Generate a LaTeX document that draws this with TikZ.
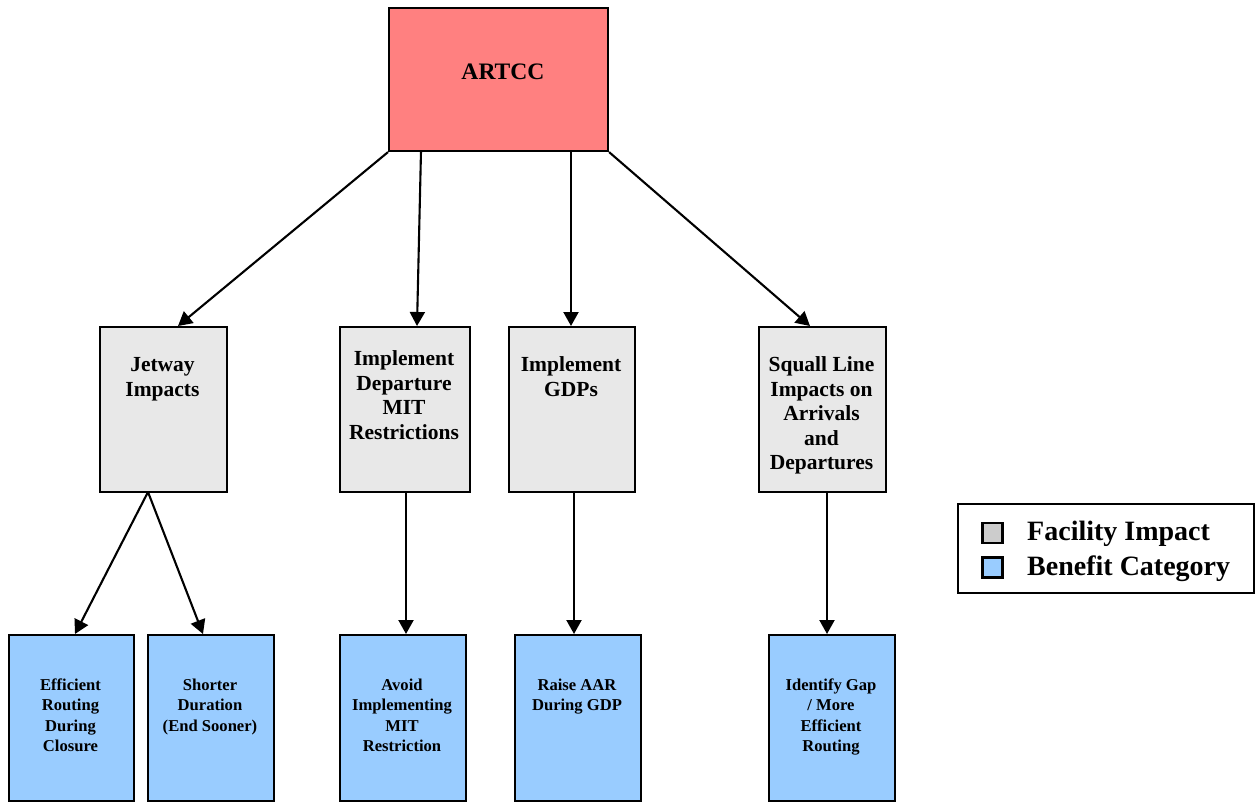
\documentclass[tikz,border=0pt]{standalone}
\usepackage{fontspec}
\setmainfont{Liberation Serif}
\usetikzlibrary{arrows.meta}
\definecolor{artcc}{RGB}{255,128,128}
\definecolor{facil}{RGB}{232,232,232}
\definecolor{benef}{RGB}{153,204,255}
\definecolor{legrey}{RGB}{204,204,204}
\tikzset{
  box/.style={draw=black, line width=2.1pt, inner sep=0pt, anchor=north west},
  artccbox/.style={box, fill=artcc},
  facbox/.style={box, fill=facil, minimum width=127pt, minimum height=165pt},
  benbox/.style={box, fill=benef, minimum width=126pt, minimum height=166pt},
  midtxt/.style={anchor=base, align=center, inner sep=0pt, font=\bfseries\fontsize{21.5}{24.5}\selectfont},
  bottxt/.style={anchor=base, align=center, inner sep=0pt, font=\bfseries\fontsize{16.6}{20.5}\selectfont},
  arr/.style={line width=2.1pt, -{Triangle[length=14pt,width=15pt]}},
  legsq/.style={draw=black, line width=2.1pt, minimum width=20pt, minimum height=20pt, inner sep=0pt},
  legtxt/.style={anchor=base west, inner sep=0pt, font=\bfseries\fontsize{28}{32}\selectfont}
}
\begin{document}
\begin{tikzpicture}[x=1pt,y=-1pt]
\useasboundingbox (0,0) rectangle (1256,801);
% top
\node[artccbox, minimum width=219pt, minimum height=143pt] (artcc) at (388,7) {};
\node[anchor=base, inner sep=0pt, font=\bfseries\fontsize{23.6}{28}\selectfont] (artcct) at (503,79) {ARTCC};
% middle row
\node[facbox] (jet) at (99,326) {};
\node[midtxt] (jett) at (162.5,396) {Jetway\\Impacts};
\node[facbox, minimum width=130pt] (dep) at (339,326) {};
\node[midtxt] (dept) at (404,439) {Implement\\Departure\\MIT\\Restrictions};
\node[facbox, minimum width=126pt] (gdp) at (508,326) {};
\node[midtxt] (gdpt) at (571,396) {Implement\\GDPs};
\node[facbox] (sq) at (758,326) {};
\node[midtxt] (sqt) at (821.5,469.5) {Squall Line\\Impacts on\\Arrivals\\and\\Departures};
% bottom row
\node[benbox, minimum width=125pt] (eff) at (8,634) {};
\node[bottxt] (efft) at (70.5,751.5) {Efficient\\Routing\\During\\Closure};
\node[benbox] (sho) at (147,634) {};
\node[bottxt] (shot) at (210,731) {Shorter\\Duration\\(End Sooner)};
\node[benbox] (avo) at (339,634) {};
\node[bottxt] (avot) at (402,751.5) {Avoid\\Implementing\\MIT\\Restriction};
\node[benbox] (rai) at (514,634) {};
\node[bottxt] (rait) at (577,710.5) {Raise AAR\\During GDP};
\node[benbox] (ide) at (768,634) {};
\node[bottxt] (idet) at (831,751.5) {Identify Gap\\/ More\\Efficient\\Routing};
% connectors
\coordinate (b0) at (178,326);
\coordinate (a1) at (421,151); \coordinate (b1) at (417,326);
\coordinate (a2) at (571,151); \coordinate (b2) at (571,326);
\coordinate (b3) at (810,326);
\draw[arr] (artcc.south west) -- (b0);
\draw[arr] (a1) -- (b1);
\draw[arr] (a2) -- (b2);
\draw[arr] (artcc.south east) -- (b3);
\coordinate (jb) at (148,492);
\coordinate (e0) at (75,634);
\coordinate (e1) at (203,634);
\draw[arr] (jb) -- (e0);
\draw[arr] (jb) -- (e1);
\coordinate (db) at (406,492); \coordinate (de) at (406,634);
\coordinate (gb) at (574,492); \coordinate (ge) at (574,634);
\coordinate (sb) at (827,492); \coordinate (se) at (827,634);
\draw[arr] (db) -- (de);
\draw[arr] (gb) -- (ge);
\draw[arr] (sb) -- (se);
% legend
\node[box, minimum width=296pt, minimum height=89pt] (leg) at (957,503) {};
\node[legsq, fill=legrey] (lsq1) at (992.5,533) {};
\node[legsq, fill=benef] (lsq2) at (992.5,567.5) {};
\node[legtxt] (lt1) at (1027,540) {Facility Impact};
\node[legtxt] (lt2) at (1027,575) {Benefit Category};
\end{tikzpicture}
\end{document}
